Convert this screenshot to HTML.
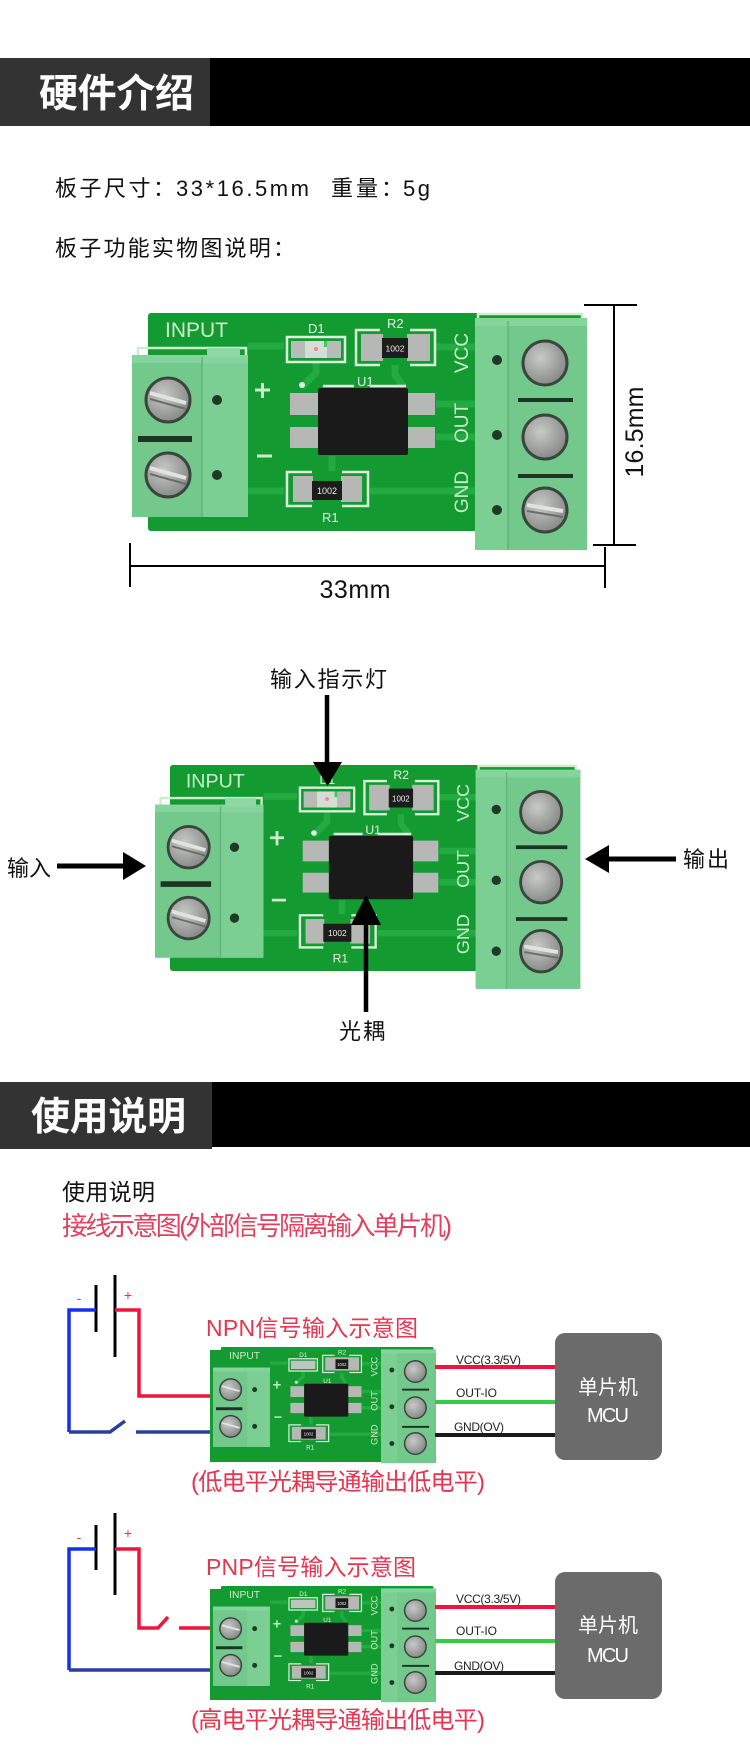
<!DOCTYPE html>
<html><head><meta charset="utf-8"><style>
html,body{margin:0;padding:0;background:#fff;}
svg{display:block;}
text{font-family:"Liberation Sans","Noto Sans CJK SC",sans-serif;}
</style></head><body>
<svg width="750" height="1763" viewBox="0 0 750 1763" xmlns="http://www.w3.org/2000/svg">
<defs>
<radialGradient id="scr" cx="0.4" cy="0.38" r="0.75"><stop offset="0" stop-color="#c8cac8"/><stop offset="1" stop-color="#7a7e7a"/></radialGradient>
</defs>
<rect width="750" height="1763" fill="#fff"/>

<!-- HEADER 1 -->
<rect x="0" y="58" width="210" height="68" fill="#333"/>
<rect x="210" y="58" width="540" height="68" fill="#000"/>
<text x="39" y="107" font-size="39" font-weight="bold" fill="#fff" textLength="155">硬件介绍</text>

<text x="55" y="196" font-size="22" fill="#111" textLength="120">板子尺寸：</text>
<text x="176" y="196" font-size="22" fill="#111" textLength="133">33*16.5mm</text>
<text x="331" y="196" font-size="22" fill="#111" textLength="72">重量：</text>
<text x="403" y="196" font-size="22" fill="#111" textLength="27">5g</text>
<text x="55" y="256" font-size="22" fill="#111" textLength="240">板子功能实物图说明：</text>

<!-- PCB 1 -->
<g transform="translate(132,313)">
 <rect x="16" y="0" width="434" height="218" rx="3" fill="#139a30"/>
 <g stroke="#22ab40" stroke-width="7" fill="none">
  <path d="M116,33 H152"/><path d="M184,50 V60 L170,74"/><path d="M263,52 V62 L272,74"/>
  <path d="M304,34 H343"/><path d="M304,91 H343"/><path d="M304,124 H343"/>
  <path d="M200,143 V158"/><path d="M116,178 H152"/><path d="M238,178 H343"/>
 </g>
 <g stroke="#cfeccf" stroke-width="2.5" fill="none"><path d="M6,42 V35 H114 V42"/><path d="M346,6 V1 H450 V6"/></g>
 <rect x="0" y="42" width="116" height="162" fill="#73c98b"/>
 <rect x="70" y="42" width="46" height="162" fill="#7ccf93"/>
 <rect x="0" y="42" width="116" height="8" fill="#86d49d"/>
 <rect x="75" y="35" width="33" height="9" fill="#8fd8a4"/>
 <line x1="70" y1="44" x2="70" y2="204" stroke="#5fb677" stroke-width="1.5"/>
 <circle cx="36" cy="87" r="22" fill="url(#scr)" stroke="#3a463d" stroke-width="3"/>
 <circle cx="36" cy="162" r="22" fill="url(#scr)" stroke="#3a463d" stroke-width="3"/>
 <path d="M18,80 L54,90" stroke="#e2e2e2" stroke-width="4"/><path d="M18,86 L54,96" stroke="#6a6d6a" stroke-width="2"/>
 <path d="M18,155 L54,165" stroke="#e2e2e2" stroke-width="4"/><path d="M18,161 L54,171" stroke="#6a6d6a" stroke-width="2"/>
 <circle cx="85" cy="87" r="5" fill="#1f3a26"/><circle cx="85" cy="162" r="5" fill="#1f3a26"/>
 <rect x="6" y="123" width="54" height="6" fill="#1e3524"/>
 <rect x="343" y="5" width="112" height="232" fill="#73c98b"/>
 <rect x="343" y="5" width="33" height="232" fill="#7ccf93"/>
 <rect x="343" y="5" width="112" height="8" fill="#86d49d"/>
 <line x1="376" y1="8" x2="376" y2="237" stroke="#5fb677" stroke-width="1.5"/>
 <circle cx="413" cy="50" r="22" fill="url(#scr)" stroke="#3a463d" stroke-width="3"/>
 <circle cx="413" cy="124" r="22" fill="url(#scr)" stroke="#3a463d" stroke-width="3"/>
 <circle cx="413" cy="197" r="22" fill="url(#scr)" stroke="#3a463d" stroke-width="3"/>
 <path d="M395,192 L431,198" stroke="#e2e2e2" stroke-width="4"/><path d="M395,198 L431,204" stroke="#6a6d6a" stroke-width="2"/>
 <circle cx="365" cy="47" r="5" fill="#1f3a26"/><circle cx="365" cy="122" r="5" fill="#1f3a26"/><circle cx="365" cy="197" r="5" fill="#1f3a26"/>
 <rect x="386" y="85" width="55" height="4" fill="#1e3524"/><rect x="386" y="161" width="55" height="4" fill="#1e3524"/>
 <text x="33" y="24" font-size="21" fill="#cdeccd" textLength="63">INPUT</text>
 <path d="M123,77 H138 M130.5,70 V85 M125,143 H140" stroke="#cdeccd" stroke-width="3"/>
 <text x="176" y="20" font-size="13" fill="#e4f4e4">D1</text>
 <text x="255" y="15" font-size="13" fill="#e4f4e4">R2</text>
 <text x="225" y="73" font-size="13" fill="#e4f4e4">U1</text>
 <text x="190" y="209" font-size="13" fill="#e4f4e4">R1</text>
 <text transform="translate(336,40) rotate(-90)" text-anchor="middle" font-size="19" fill="#cdeccd">VCC</text>
 <text transform="translate(336,110) rotate(-90)" text-anchor="middle" font-size="19" fill="#cdeccd">OUT</text>
 <text transform="translate(336,179) rotate(-90)" text-anchor="middle" font-size="19" fill="#cdeccd">GND</text>
 <rect x="155" y="24" width="58" height="25" fill="none" stroke="#dcefdc" stroke-width="2.5"/>
 <rect x="159" y="28" width="14" height="17" fill="#b8bbb8"/><rect x="195" y="28" width="14" height="17" fill="#b8bbb8"/>
 <rect x="173" y="28" width="22" height="17" fill="#d8dcd8"/><circle cx="184" cy="36" r="2" fill="#e88a8a"/><rect x="192" y="28" width="3" height="6" fill="#33d455"/>
 <path d="M248,17 H224 V52 H248 M278,17 H303 V52 H278" fill="none" stroke="#dcefdc" stroke-width="2.5"/>
 <rect x="229" y="21" width="22" height="27" fill="#b5b8b5"/><rect x="275" y="21" width="23" height="27" fill="#b5b8b5"/>
 <rect x="250" y="25" width="26" height="20" fill="#1c1c1c"/>
 <text x="263" y="38.5" font-size="8.5" fill="#eee" text-anchor="middle">1002</text>
 <path d="M191,73 H222 M238,73 H274" stroke="#dcefdc" stroke-width="2.5"/>
 <rect x="158" y="80" width="28" height="22" fill="#b5b8b5"/><rect x="158" y="114" width="28" height="21" fill="#b5b8b5"/>
 <rect x="275" y="80" width="28" height="22" fill="#b5b8b5"/><rect x="275" y="114" width="28" height="21" fill="#b5b8b5"/>
 <rect x="186" y="75" width="90" height="67" rx="2" fill="#1a1a1a"/>
 <circle cx="170" cy="72" r="3" fill="#e4f4e4"/>
 <path d="M180,159 H155 V193 H180 M210,159 H236 V193 H210" fill="none" stroke="#dcefdc" stroke-width="2.5"/>
 <rect x="161" y="163" width="20" height="26" fill="#b5b8b5"/><rect x="209" y="163" width="21" height="26" fill="#b5b8b5"/>
 <rect x="180" y="168" width="30" height="19" fill="#1c1c1c"/>
 <text x="195" y="181" font-size="9" fill="#eee" text-anchor="middle">1002</text>
</g>

<!-- dimensions -->
<g stroke="#000" stroke-width="2">
 <line x1="614" y1="305" x2="614" y2="545"/>
 <line x1="584" y1="305" x2="637" y2="305"/>
 <line x1="593" y1="545" x2="636" y2="545"/>
 <line x1="130" y1="566" x2="605" y2="566"/>
 <line x1="130" y1="543" x2="130" y2="587"/>
 <line x1="605" y1="547" x2="605" y2="588"/>
</g>
<text transform="translate(643,432) rotate(-90)" text-anchor="middle" font-size="25" fill="#111" textLength="91">16.5mm</text>
<text x="355" y="598" text-anchor="middle" font-size="25" fill="#111" textLength="71">33mm</text>

<!-- PCB 2 -->
<g transform="translate(155,765) scale(0.935,0.945)">
 <rect x="16" y="0" width="434" height="218" rx="3" fill="#139a30"/>
 <g stroke="#22ab40" stroke-width="7" fill="none">
  <path d="M116,33 H152"/><path d="M184,50 V60 L170,74"/><path d="M263,52 V62 L272,74"/>
  <path d="M304,34 H343"/><path d="M304,91 H343"/><path d="M304,124 H343"/>
  <path d="M200,143 V158"/><path d="M116,178 H152"/><path d="M238,178 H343"/>
 </g>
 <g stroke="#cfeccf" stroke-width="2.5" fill="none"><path d="M6,42 V35 H114 V42"/><path d="M346,6 V1 H450 V6"/></g>
 <rect x="0" y="42" width="116" height="162" fill="#73c98b"/>
 <rect x="70" y="42" width="46" height="162" fill="#7ccf93"/>
 <rect x="0" y="42" width="116" height="8" fill="#86d49d"/>
 <rect x="75" y="35" width="33" height="9" fill="#8fd8a4"/>
 <line x1="70" y1="44" x2="70" y2="204" stroke="#5fb677" stroke-width="1.5"/>
 <circle cx="36" cy="87" r="22" fill="url(#scr)" stroke="#3a463d" stroke-width="3"/>
 <circle cx="36" cy="162" r="22" fill="url(#scr)" stroke="#3a463d" stroke-width="3"/>
 <path d="M18,80 L54,90" stroke="#e2e2e2" stroke-width="4"/><path d="M18,86 L54,96" stroke="#6a6d6a" stroke-width="2"/>
 <path d="M18,155 L54,165" stroke="#e2e2e2" stroke-width="4"/><path d="M18,161 L54,171" stroke="#6a6d6a" stroke-width="2"/>
 <circle cx="85" cy="87" r="5" fill="#1f3a26"/><circle cx="85" cy="162" r="5" fill="#1f3a26"/>
 <rect x="6" y="123" width="54" height="6" fill="#1e3524"/>
 <rect x="343" y="5" width="112" height="232" fill="#73c98b"/>
 <rect x="343" y="5" width="33" height="232" fill="#7ccf93"/>
 <rect x="343" y="5" width="112" height="8" fill="#86d49d"/>
 <line x1="376" y1="8" x2="376" y2="237" stroke="#5fb677" stroke-width="1.5"/>
 <circle cx="413" cy="50" r="22" fill="url(#scr)" stroke="#3a463d" stroke-width="3"/>
 <circle cx="413" cy="124" r="22" fill="url(#scr)" stroke="#3a463d" stroke-width="3"/>
 <circle cx="413" cy="197" r="22" fill="url(#scr)" stroke="#3a463d" stroke-width="3"/>
 <path d="M395,192 L431,198" stroke="#e2e2e2" stroke-width="4"/><path d="M395,198 L431,204" stroke="#6a6d6a" stroke-width="2"/>
 <circle cx="365" cy="47" r="5" fill="#1f3a26"/><circle cx="365" cy="122" r="5" fill="#1f3a26"/><circle cx="365" cy="197" r="5" fill="#1f3a26"/>
 <rect x="386" y="85" width="55" height="4" fill="#1e3524"/><rect x="386" y="161" width="55" height="4" fill="#1e3524"/>
 <text x="33" y="24" font-size="21" fill="#cdeccd" textLength="63">INPUT</text>
 <path d="M123,77 H138 M130.5,70 V85 M125,143 H140" stroke="#cdeccd" stroke-width="3"/>
 <text x="176" y="20" font-size="13" fill="#e4f4e4">D1</text>
 <text x="255" y="15" font-size="13" fill="#e4f4e4">R2</text>
 <text x="225" y="73" font-size="13" fill="#e4f4e4">U1</text>
 <text x="190" y="209" font-size="13" fill="#e4f4e4">R1</text>
 <text transform="translate(336,40) rotate(-90)" text-anchor="middle" font-size="19" fill="#cdeccd">VCC</text>
 <text transform="translate(336,110) rotate(-90)" text-anchor="middle" font-size="19" fill="#cdeccd">OUT</text>
 <text transform="translate(336,179) rotate(-90)" text-anchor="middle" font-size="19" fill="#cdeccd">GND</text>
 <rect x="155" y="24" width="58" height="25" fill="none" stroke="#dcefdc" stroke-width="2.5"/>
 <rect x="159" y="28" width="14" height="17" fill="#b8bbb8"/><rect x="195" y="28" width="14" height="17" fill="#b8bbb8"/>
 <rect x="173" y="28" width="22" height="17" fill="#d8dcd8"/><circle cx="184" cy="36" r="2" fill="#e88a8a"/><rect x="192" y="28" width="3" height="6" fill="#33d455"/>
 <path d="M248,17 H224 V52 H248 M278,17 H303 V52 H278" fill="none" stroke="#dcefdc" stroke-width="2.5"/>
 <rect x="229" y="21" width="22" height="27" fill="#b5b8b5"/><rect x="275" y="21" width="23" height="27" fill="#b5b8b5"/>
 <rect x="250" y="25" width="26" height="20" fill="#1c1c1c"/>
 <text x="263" y="38.5" font-size="8.5" fill="#eee" text-anchor="middle">1002</text>
 <path d="M191,73 H222 M238,73 H274" stroke="#dcefdc" stroke-width="2.5"/>
 <rect x="158" y="80" width="28" height="22" fill="#b5b8b5"/><rect x="158" y="114" width="28" height="21" fill="#b5b8b5"/>
 <rect x="275" y="80" width="28" height="22" fill="#b5b8b5"/><rect x="275" y="114" width="28" height="21" fill="#b5b8b5"/>
 <rect x="186" y="75" width="90" height="67" rx="2" fill="#1a1a1a"/>
 <circle cx="170" cy="72" r="3" fill="#e4f4e4"/>
 <path d="M180,159 H155 V193 H180 M210,159 H236 V193 H210" fill="none" stroke="#dcefdc" stroke-width="2.5"/>
 <rect x="161" y="163" width="20" height="26" fill="#b5b8b5"/><rect x="209" y="163" width="21" height="26" fill="#b5b8b5"/>
 <rect x="180" y="168" width="30" height="19" fill="#1c1c1c"/>
 <text x="195" y="181" font-size="9" fill="#eee" text-anchor="middle">1002</text>
</g>

<!-- PCB2 arrows & labels -->
<text x="270" y="687" font-size="22" fill="#111" textLength="117">输入指示灯</text>
<line x1="327" y1="695" x2="327" y2="765" stroke="#000" stroke-width="4.5"/>
<polygon points="313,762 342,762 327.5,786" fill="#000"/>
<text x="7" y="876" font-size="22" fill="#111" textLength="44">输入</text>
<line x1="57" y1="866" x2="126" y2="866" stroke="#000" stroke-width="5"/>
<polygon points="123,852 123,880 146,866" fill="#000"/>
<text x="683" y="867" font-size="22" fill="#111" textLength="46">输出</text>
<line x1="606" y1="859" x2="676" y2="859" stroke="#000" stroke-width="5"/>
<polygon points="609,845 609,873 585,859" fill="#000"/>
<line x1="366" y1="922" x2="366" y2="1012" stroke="#000" stroke-width="4.5"/>
<polygon points="351,925 381,925 366,895" fill="#000"/>
<text x="339" y="1039" font-size="22" fill="#111" textLength="46">光耦</text>

<!-- HEADER 2 -->
<rect x="210" y="1082" width="540" height="65" fill="#000"/>
<rect x="0" y="1082" width="212" height="67" fill="#333"/>
<text x="31" y="1130" font-size="39" font-weight="bold" fill="#fff" textLength="155">使用说明</text>

<text x="62" y="1200" font-size="23" fill="#111" textLength="93">使用说明</text>
<text x="62" y="1235" font-size="26" fill="#e2405c" textLength="390">接线示意图(外部信号隔离输入单片机)</text>

<!-- NPN DIAGRAM -->
<line x1="115" y1="1275" x2="115" y2="1357" stroke="#000" stroke-width="3"/>
<line x1="96" y1="1285" x2="96" y2="1332" stroke="#000" stroke-width="3"/>
<text x="79" y="1303" font-size="14" fill="#e8334f" text-anchor="middle">-</text>
<text x="128" y="1300" font-size="14" fill="#e8334f" text-anchor="middle">+</text>
<path d="M96,1310 H69 V1432" fill="none" stroke="#1230f0" stroke-width="3.5"/>
<path d="M69,1432 H110 L125,1421" fill="none" stroke="#28409a" stroke-width="3.5"/>
<line x1="136" y1="1432" x2="212" y2="1432" stroke="#28409a" stroke-width="3.5"/>
<path d="M115,1310 H139 V1396 H212" fill="none" stroke="#f0143c" stroke-width="3.5"/>
<text x="206" y="1336" font-size="23" fill="#e6354f" textLength="212">NPN信号输入示意图</text>

<rect x="210" y="1350" width="226" height="112" fill="#139a30"/>
<g transform="translate(213,1347) scale(0.49,0.49)">
 <rect x="16" y="0" width="434" height="225" rx="3" fill="#139a30"/>
 <g stroke="#22ab40" stroke-width="7" fill="none">
  <path d="M116,33 H152"/><path d="M184,50 V60 L170,74"/><path d="M263,52 V62 L272,74"/>
  <path d="M304,34 H343"/><path d="M304,91 H343"/><path d="M304,124 H343"/>
  <path d="M200,143 V158"/><path d="M238,178 H343"/>
 </g>
 <rect x="0" y="42" width="116" height="162" fill="#73c98b"/>
 <rect x="70" y="42" width="46" height="162" fill="#7ccf93"/>
 <rect x="0" y="42" width="116" height="8" fill="#86d49d"/>
 <circle cx="36" cy="87" r="22" fill="url(#scr)" stroke="#3a463d" stroke-width="3"/>
 <circle cx="36" cy="162" r="22" fill="url(#scr)" stroke="#3a463d" stroke-width="3"/>
 <path d="M18,80 L54,90" stroke="#e2e2e2" stroke-width="4"/><path d="M18,155 L54,165" stroke="#e2e2e2" stroke-width="4"/>
 <circle cx="85" cy="87" r="5" fill="#1f3a26"/><circle cx="85" cy="162" r="5" fill="#1f3a26"/>
 <rect x="6" y="123" width="54" height="6" fill="#1e3524"/>
 <rect x="343" y="5" width="112" height="232" fill="#73c98b"/>
 <rect x="343" y="5" width="33" height="232" fill="#7ccf93"/>
 <rect x="343" y="5" width="112" height="8" fill="#86d49d"/>
 <circle cx="413" cy="50" r="22" fill="url(#scr)" stroke="#3a463d" stroke-width="3"/>
 <circle cx="413" cy="124" r="22" fill="url(#scr)" stroke="#3a463d" stroke-width="3"/>
 <circle cx="413" cy="197" r="22" fill="url(#scr)" stroke="#3a463d" stroke-width="3"/>
 <circle cx="365" cy="47" r="5" fill="#1f3a26"/><circle cx="365" cy="122" r="5" fill="#1f3a26"/><circle cx="365" cy="197" r="5" fill="#1f3a26"/>
 <rect x="386" y="85" width="55" height="4" fill="#1e3524"/><rect x="386" y="161" width="55" height="4" fill="#1e3524"/>
 <text x="33" y="24" font-size="21" fill="#cdeccd" textLength="63">INPUT</text>
 <path d="M123,77 H138 M130.5,70 V85 M125,143 H140" stroke="#cdeccd" stroke-width="3"/>
 <text x="176" y="20" font-size="13" fill="#e4f4e4">D1</text>
 <text x="255" y="15" font-size="13" fill="#e4f4e4">R2</text>
 <text x="225" y="73" font-size="13" fill="#e4f4e4">U1</text>
 <text x="190" y="209" font-size="13" fill="#e4f4e4">R1</text>
 <text transform="translate(336,40) rotate(-90)" text-anchor="middle" font-size="19" fill="#cdeccd">VCC</text>
 <text transform="translate(336,110) rotate(-90)" text-anchor="middle" font-size="19" fill="#cdeccd">OUT</text>
 <text transform="translate(336,179) rotate(-90)" text-anchor="middle" font-size="19" fill="#cdeccd">GND</text>
 <rect x="155" y="24" width="58" height="25" fill="none" stroke="#dcefdc" stroke-width="2.5"/>
 <rect x="159" y="28" width="50" height="17" fill="#c0c4c0"/>
 <path d="M248,17 H224 V52 H248 M278,17 H303 V52 H278" fill="none" stroke="#dcefdc" stroke-width="2.5"/>
 <rect x="229" y="21" width="69" height="27" fill="#b5b8b5"/>
 <rect x="250" y="25" width="26" height="20" fill="#1c1c1c"/>
 <text x="263" y="38.5" font-size="8.5" fill="#eee" text-anchor="middle">1002</text>
 <rect x="158" y="80" width="28" height="22" fill="#b5b8b5"/><rect x="158" y="114" width="28" height="21" fill="#b5b8b5"/>
 <rect x="275" y="80" width="28" height="22" fill="#b5b8b5"/><rect x="275" y="114" width="28" height="21" fill="#b5b8b5"/>
 <rect x="186" y="75" width="90" height="67" rx="2" fill="#1a1a1a"/>
 <circle cx="170" cy="72" r="3" fill="#e4f4e4"/>
 <path d="M180,159 H155 V193 H180 M210,159 H236 V193 H210" fill="none" stroke="#dcefdc" stroke-width="2.5"/>
 <rect x="161" y="163" width="69" height="26" fill="#b5b8b5"/>
 <rect x="180" y="168" width="30" height="19" fill="#1c1c1c"/>
 <text x="195" y="181" font-size="9" fill="#eee" text-anchor="middle">1002</text>
</g>

<line x1="435" y1="1367" x2="555" y2="1367" stroke="#f0143c" stroke-width="4"/>
<line x1="435" y1="1402" x2="555" y2="1402" stroke="#33cc44" stroke-width="4"/>
<line x1="435" y1="1435" x2="555" y2="1435" stroke="#1a1a1a" stroke-width="4"/>
<text x="456" y="1364" font-size="12" fill="#222" textLength="65">VCC(3.3/5V)</text>
<text x="456" y="1397" font-size="12" fill="#222" textLength="41">OUT-IO</text>
<text x="454" y="1431" font-size="12" fill="#222" textLength="50">GND(OV)</text>
<rect x="555" y="1333" width="107" height="127" rx="10" fill="#6b6b6b"/>
<text x="608" y="1394" font-size="20" fill="#fff" text-anchor="middle">单片机</text>
<text x="608" y="1422" font-size="20" fill="#fff" text-anchor="middle" textLength="42">MCU</text>
<text x="191" y="1490" font-size="24" fill="#e6354f" textLength="294">(低电平光耦导通输出低电平)</text>

<!-- PNP DIAGRAM -->
<line x1="115" y1="1513" x2="115" y2="1595" stroke="#000" stroke-width="3"/>
<line x1="96" y1="1525" x2="96" y2="1570" stroke="#000" stroke-width="3"/>
<text x="79" y="1542" font-size="14" fill="#e8334f" text-anchor="middle">-</text>
<text x="128" y="1538" font-size="14" fill="#e8334f" text-anchor="middle">+</text>
<path d="M96,1549 H69 V1670" fill="none" stroke="#1230f0" stroke-width="3.5"/>
<line x1="69" y1="1670" x2="212" y2="1670" stroke="#28409a" stroke-width="3.5"/>
<path d="M115,1549 H139 V1628 H158 L168,1617" fill="none" stroke="#f0143c" stroke-width="3.5"/>
<line x1="179" y1="1628" x2="212" y2="1628" stroke="#f0143c" stroke-width="3.5"/>
<text x="206" y="1575" font-size="23" fill="#e6354f" textLength="210">PNP信号输入示意图</text>

<rect x="210" y="1589" width="226" height="111" fill="#139a30"/>
<g transform="translate(213,1586) scale(0.49,0.49)">
 <rect x="16" y="0" width="434" height="225" rx="3" fill="#139a30"/>
 <g stroke="#22ab40" stroke-width="7" fill="none">
  <path d="M116,33 H152"/><path d="M184,50 V60 L170,74"/><path d="M263,52 V62 L272,74"/>
  <path d="M304,34 H343"/><path d="M304,91 H343"/><path d="M304,124 H343"/>
  <path d="M200,143 V158"/><path d="M238,178 H343"/>
 </g>
 <rect x="0" y="42" width="116" height="162" fill="#73c98b"/>
 <rect x="70" y="42" width="46" height="162" fill="#7ccf93"/>
 <rect x="0" y="42" width="116" height="8" fill="#86d49d"/>
 <circle cx="36" cy="87" r="22" fill="url(#scr)" stroke="#3a463d" stroke-width="3"/>
 <circle cx="36" cy="162" r="22" fill="url(#scr)" stroke="#3a463d" stroke-width="3"/>
 <path d="M18,80 L54,90" stroke="#e2e2e2" stroke-width="4"/><path d="M18,155 L54,165" stroke="#e2e2e2" stroke-width="4"/>
 <circle cx="85" cy="87" r="5" fill="#1f3a26"/><circle cx="85" cy="162" r="5" fill="#1f3a26"/>
 <rect x="6" y="123" width="54" height="6" fill="#1e3524"/>
 <rect x="343" y="5" width="112" height="232" fill="#73c98b"/>
 <rect x="343" y="5" width="33" height="232" fill="#7ccf93"/>
 <rect x="343" y="5" width="112" height="8" fill="#86d49d"/>
 <circle cx="413" cy="50" r="22" fill="url(#scr)" stroke="#3a463d" stroke-width="3"/>
 <circle cx="413" cy="124" r="22" fill="url(#scr)" stroke="#3a463d" stroke-width="3"/>
 <circle cx="413" cy="197" r="22" fill="url(#scr)" stroke="#3a463d" stroke-width="3"/>
 <circle cx="365" cy="47" r="5" fill="#1f3a26"/><circle cx="365" cy="122" r="5" fill="#1f3a26"/><circle cx="365" cy="197" r="5" fill="#1f3a26"/>
 <rect x="386" y="85" width="55" height="4" fill="#1e3524"/><rect x="386" y="161" width="55" height="4" fill="#1e3524"/>
 <text x="33" y="24" font-size="21" fill="#cdeccd" textLength="63">INPUT</text>
 <path d="M123,77 H138 M130.5,70 V85 M125,143 H140" stroke="#cdeccd" stroke-width="3"/>
 <text x="176" y="20" font-size="13" fill="#e4f4e4">D1</text>
 <text x="255" y="15" font-size="13" fill="#e4f4e4">R2</text>
 <text x="225" y="73" font-size="13" fill="#e4f4e4">U1</text>
 <text x="190" y="209" font-size="13" fill="#e4f4e4">R1</text>
 <text transform="translate(336,40) rotate(-90)" text-anchor="middle" font-size="19" fill="#cdeccd">VCC</text>
 <text transform="translate(336,110) rotate(-90)" text-anchor="middle" font-size="19" fill="#cdeccd">OUT</text>
 <text transform="translate(336,179) rotate(-90)" text-anchor="middle" font-size="19" fill="#cdeccd">GND</text>
 <rect x="155" y="24" width="58" height="25" fill="none" stroke="#dcefdc" stroke-width="2.5"/>
 <rect x="159" y="28" width="50" height="17" fill="#c0c4c0"/>
 <path d="M248,17 H224 V52 H248 M278,17 H303 V52 H278" fill="none" stroke="#dcefdc" stroke-width="2.5"/>
 <rect x="229" y="21" width="69" height="27" fill="#b5b8b5"/>
 <rect x="250" y="25" width="26" height="20" fill="#1c1c1c"/>
 <text x="263" y="38.5" font-size="8.5" fill="#eee" text-anchor="middle">1002</text>
 <rect x="158" y="80" width="28" height="22" fill="#b5b8b5"/><rect x="158" y="114" width="28" height="21" fill="#b5b8b5"/>
 <rect x="275" y="80" width="28" height="22" fill="#b5b8b5"/><rect x="275" y="114" width="28" height="21" fill="#b5b8b5"/>
 <rect x="186" y="75" width="90" height="67" rx="2" fill="#1a1a1a"/>
 <circle cx="170" cy="72" r="3" fill="#e4f4e4"/>
 <path d="M180,159 H155 V193 H180 M210,159 H236 V193 H210" fill="none" stroke="#dcefdc" stroke-width="2.5"/>
 <rect x="161" y="163" width="69" height="26" fill="#b5b8b5"/>
 <rect x="180" y="168" width="30" height="19" fill="#1c1c1c"/>
 <text x="195" y="181" font-size="9" fill="#eee" text-anchor="middle">1002</text>
</g>

<line x1="435" y1="1607" x2="555" y2="1607" stroke="#f0143c" stroke-width="4"/>
<line x1="435" y1="1641" x2="555" y2="1641" stroke="#33cc44" stroke-width="4"/>
<line x1="435" y1="1673" x2="555" y2="1673" stroke="#1a1a1a" stroke-width="4"/>
<text x="456" y="1603" font-size="12" fill="#222" textLength="65">VCC(3.3/5V)</text>
<text x="456" y="1635" font-size="12" fill="#222" textLength="41">OUT-IO</text>
<text x="454" y="1670" font-size="12" fill="#222" textLength="50">GND(OV)</text>
<rect x="555" y="1572" width="107" height="127" rx="10" fill="#6b6b6b"/>
<text x="608" y="1632" font-size="20" fill="#fff" text-anchor="middle">单片机</text>
<text x="608" y="1662" font-size="20" fill="#fff" text-anchor="middle" textLength="42">MCU</text>
<text x="191" y="1728" font-size="24" fill="#e6354f" textLength="294">(高电平光耦导通输出低电平)</text>
</svg>
</body></html>
